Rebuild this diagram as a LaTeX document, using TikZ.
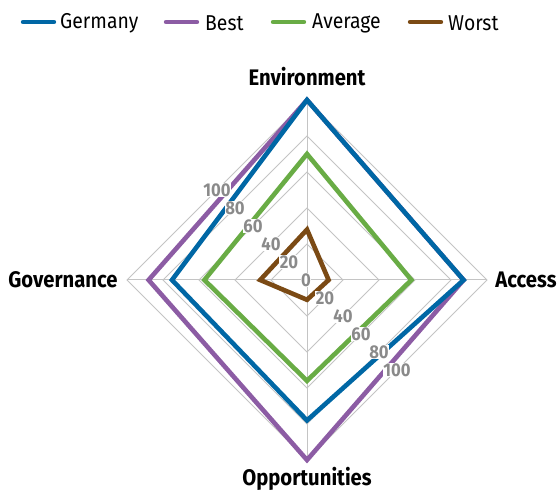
\documentclass[tikz,border=0pt]{standalone}
\usepackage{fontspec}
\setmainfont{Fira Sans}[FakeStretch=0.9]
\definecolor{cGer}{HTML}{0067A5}
\definecolor{cBest}{HTML}{8C5CA4}
\definecolor{cAvg}{HTML}{69AC45}
\definecolor{cWorst}{HTML}{7B4A14}
\definecolor{cGrid}{HTML}{C4C4C4}
\definecolor{cTick}{HTML}{8A8A8A}
\tikzset{
  gridline/.style={draw=cGrid, line width=1pt},
  series/.style={line width=4.6pt, line join=miter, miter limit=10},
  legline/.style={line width=4.4pt, line cap=round},
  legtext/.style={anchor=west, inner sep=0pt, font=\fontsize{21.5}{21.5}\selectfont},
  axlabel/.style={inner sep=0pt, font=\fontsize{22.5}{22.5}\selectfont\bfseries},
  tick/.style={fill=white, inner sep=0.6pt, text=cTick, font=\fontsize{18.5}{18.5}\selectfont\bfseries}
}
\newcommand\radarpoly[5]{%
  \draw[series, #1] (0,{#2*1.8}) -- ({#3*1.8},0) -- (0,{-#4*1.8}) -- ({-#5*1.8},0) -- cycle;}
\begin{document}
\begin{tikzpicture}[x=1pt,y=1pt]
\useasboundingbox (0,0) rectangle (557,492);
% legend
\draw[legline, cGer] (23,470) -- (54,470);
\node[legtext] (lg1) at (60,469) {Germany};
\draw[legline, cBest] (166,470) -- (197,470);
\node[legtext] (lg2) at (205,469) {Best};
\draw[legline, cAvg] (273,470) -- (304,470);
\node[legtext] (lg3) at (312,469) {Average};
\draw[legline, cWorst] (410,470) -- (441,470);
\node[legtext] (lg4) at (448,469) {Worst};
\begin{scope}[shift={(307,212)}]
  \foreach \r in {20,40,60,80,100} {
    \draw[gridline] (0,{\r*1.8}) -- ({\r*1.8},0) -- (0,{-\r*1.8}) -- ({-\r*1.8},0) -- cycle;
  }
  \draw[gridline] (0,180) -- (0,-180);
  \draw[gridline] (-180,0) -- (180,0);
  \radarpoly{cBest}{100}{87}{100}{88}
  \radarpoly{cGer}{100}{87}{78}{75}
  \radarpoly{cAvg}{70}{58}{56}{57}
  \radarpoly{cWorst}{28}{12}{11}{26}
  \node[tick] (t0) at (-1,0) {0};
  \foreach \r in {20,40,60,80,100} {
    \node[tick] (tu\r) at ({-\r*0.9},{\r*0.9}) {\r};
    \node[tick] (tl\r) at ({\r*0.9},{-\r*0.9}) {\r};
  }
  \node[axlabel] (env) at (0,203) {Environment};
  \node[axlabel] (acc) at (219,0) {Access};
  \node[axlabel] (opp) at (0,-199) {Opportunities};
  \node[axlabel] (gov) at (-244,0) {Governance};
\end{scope}
\end{tikzpicture}
\end{document}
